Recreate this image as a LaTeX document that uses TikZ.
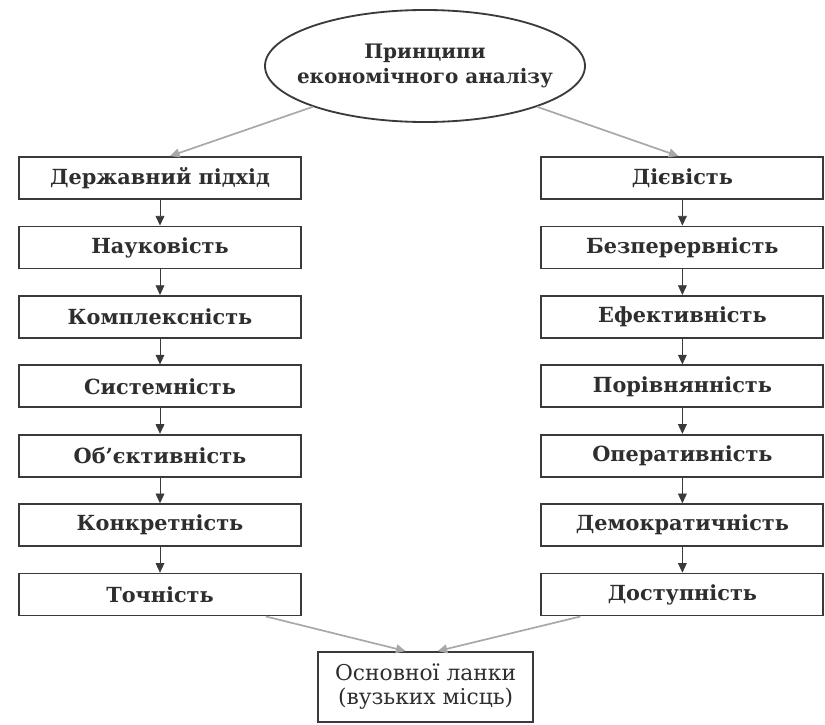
\documentclass[tikz,border=0pt]{standalone}
\usepackage{fontspec}
\setmainfont{DejaVu Serif}
\usetikzlibrary{arrows.meta, positioning, shapes.geometric}
\definecolor{boxLine}{HTML}{3A3A3A}
\definecolor{textDark}{HTML}{2E2E2E}
\definecolor{feedGray}{HTML}{A8A8A8}
\tikzset{
  principlebox/.style={draw=boxLine, line width=1.3pt, text=textDark, font=\fontsize{14.8}{17}\selectfont\bfseries,
    minimum width=7.05cm, minimum height=1.05cm, inner sep=2pt},
  topoval/.style={ellipse, draw=boxLine, line width=1.3pt, text=textDark, align=center,
    font=\fontsize{14.2}{17.5}\selectfont\bfseries, minimum width=8cm, minimum height=2.8cm,
    inner xsep=-0.38cm, inner ysep=0pt},
  linkbox/.style={draw=boxLine, line width=1.3pt, text=textDark, align=center,
    font=\fontsize{15.5}{17}\selectfont, minimum width=5.375cm, minimum height=1.75cm},
  stepdown/.style={-{Triangle[length=2.4mm, width=2.2mm]}, boxLine, line width=0.5pt},
  feedarr/.style={-{Triangle[length=2.4mm, width=2.2mm]}, feedGray, line width=1.2pt},
}

\begin{document}
\begin{tikzpicture}[node distance=0.64cm]
    \useasboundingbox (0,0) rectangle (20.625,-18.125);
    \node[topoval] (topic) at (10.625,-1.65) {Принципи\\економічного аналізу};

    % left column
    \node[principlebox] (lf1) at (4.0,-4.45) {Державний підхід};
    \node[principlebox, below=of lf1] (lf2) {Науковість};
    \node[principlebox, below=of lf2] (lf3) {Комплексність};
    \node[principlebox, below=of lf3] (lf4) {Системність};
    \node[principlebox, below=of lf4] (lf5) {Об’єктивність};
    \node[principlebox, below=of lf5] (lf6) {Конкретність};
    \node[principlebox, below=of lf6] (lf7) {Точність};

    % right column
    \node[principlebox] (rt1) at (17.06,-4.45) {Дієвість};
    \node[principlebox, below=of rt1] (rt2) {Безперервність};
    \node[principlebox, below=of rt2] (rt3) {Ефективність};
    \node[principlebox, below=of rt3] (rt4) {Порівнянність};
    \node[principlebox, below=of rt4] (rt5) {Оперативність};
    \node[principlebox, below=of rt5] (rt6) {Демократичність};
    \node[principlebox, below=of rt6] (rt7) {Доступність};

    \node[linkbox] (weak) at (10.64,-17.175) {Основної ланки\\(вузьких місць)};

    \draw[feedarr] (topic.200) -- ([xshift=0.25cm]lf1.north);
    \draw[feedarr] (topic.340) -- ([xshift=-0.1cm]rt1.north);
    \draw[stepdown] (lf1) -- (lf2);
    \draw[stepdown] (lf2) -- (lf3);
    \draw[stepdown] (lf3) -- (lf4);
    \draw[stepdown] (lf4) -- (lf5);
    \draw[stepdown] (lf5) -- (lf6);
    \draw[stepdown] (lf6) -- (lf7);
    \draw[stepdown] (rt1) -- (rt2);
    \draw[stepdown] (rt2) -- (rt3);
    \draw[stepdown] (rt3) -- (rt4);
    \draw[stepdown] (rt4) -- (rt5);
    \draw[stepdown] (rt5) -- (rt6);
    \draw[stepdown] (rt6) -- (rt7);
    \draw[feedarr] ([xshift=-0.9cm]lf7.south east) -- ([xshift=-0.5cm]weak.north);
    \draw[feedarr] ([xshift=1.0cm]rt7.south west) -- ([xshift=0.3cm]weak.north);
  \end{tikzpicture}
\end{document}
